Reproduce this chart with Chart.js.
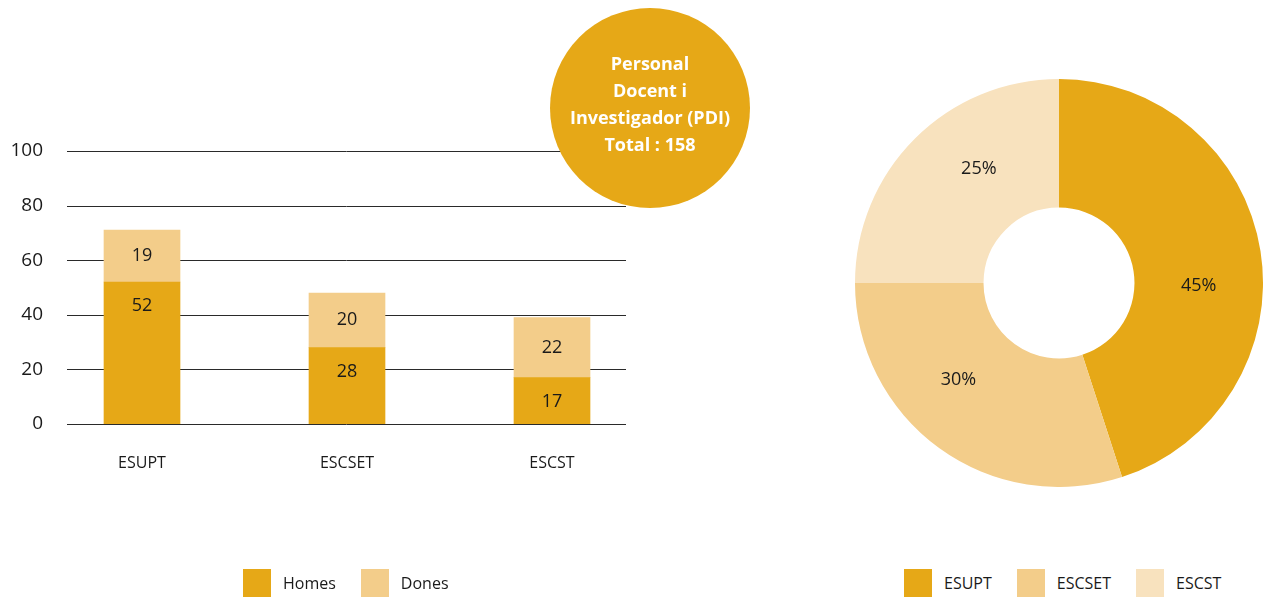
<!DOCTYPE html>
<html lang="ca">
<head>
<meta charset="UTF-8">
<title>Personal Docent i Investigador (PDI)</title>
<script src="https://cdn.jsdelivr.net/npm/chart.js"></script>
<style>
  body { margin: 0; width: 1269px; height: 598px; position: relative; background: #fff; overflow: hidden;
         font-family: "Open Sans", sans-serif; color: #1a1a1a; }
  #barChart { position: absolute; left: 0; top: 0; }
  #pieChart { position: absolute; left: 855px; top: 79px; }
  .bulle { position: absolute; left: 550px; top: 8px; width: 200px; height: 200px; border-radius: 50%;
           background: #E6A817; color: #fff; font-family: "Open Sans", sans-serif; font-weight: 700; font-size: 18px;
           line-height: 27px; text-align: center; display: flex; align-items: center; justify-content: center;
           box-sizing: border-box; padding-bottom: 8px; }
  .legende { position: absolute; top: 569px; display: flex; font-size: 16px; }
  .item { display: flex; align-items: center; margin-right: 25px; }
  .item .carre { width: 28px; height: 28px; margin-right: 12px; }
</style>
</head>
<body>
<canvas id="barChart" width="700" height="598"></canvas>
<div class="bulle">Personal<br>Docent i<br>Investigador (PDI)<br>Total : 158</div>
<canvas id="pieChart" width="408" height="408"></canvas>
<div class="legende" id="legendeBarres" style="left:243px"></div>
<div class="legende" id="legendeAnneau" style="left:904px"></div>

<script>
// Données
const ecoles = ['ESUPT', 'ESCSET', 'ESCST'];
const homes = [52, 28, 17];
const dones = [19, 20, 22];
const pourcentages = [45, 30, 25];
const series = ['Homes', 'Dones'];
const ticksY = [0, 20, 40, 60, 80, 100];

const couleurs = ['#E6A817', '#F3CD8A', '#F8E2BE'];
const texte = '#1a1a1a';
const policeY = '19px "Open Sans"';

// largeur du libellé le plus long de l'axe Y (pour aligner à droite)
const mesure = document.createElement('canvas').getContext('2d');
mesure.font = policeY;
const largeurY = Math.max(...ticksY.map(t => mesure.measureText(String(t)).width));

// Lignes horizontales (plus courtes que la zone des barres)
const grilleY = {
    id: 'grilleY',
    beforeDatasetsDraw(chart) {
        const { ctx, chartArea, scales } = chart;
        ctx.save();
        ctx.strokeStyle = '#2a2a2a';
        ctx.lineWidth = 1;
        ticksY.forEach(v => {
            const y = Math.round(scales.y.getPixelForValue(v)) + 0.5;
            ctx.beginPath();
            ctx.moveTo(chartArea.left + 27.5, y);
            ctx.lineTo(chartArea.right - 28.5, y);
            ctx.stroke();
        });
        ctx.restore();
    }
};

// Valeurs écrites dans les barres
const etiquettesBarres = {
    id: 'etiquettesBarres',
    afterDatasetsDraw(chart) {
        const { ctx } = chart;
        ctx.save();
        ctx.font = '18px "Open Sans"';
        ctx.fillStyle = texte;
        ctx.textAlign = 'center';
        ctx.textBaseline = 'middle';
        chart.data.datasets.forEach((ds, i) => {
            chart.getDatasetMeta(i).data.forEach((bar, j) => {
                const y = i === 0 ? bar.y + 24 : (bar.y + bar.base) / 2;
                ctx.fillText(ds.data[j], bar.x, y);
            });
        });
        ctx.restore();
    }
};

new Chart(document.getElementById('barChart'), {
    type: 'bar',
    data: {
        labels: ecoles,
        datasets: [
            { label: series[0], data: homes, backgroundColor: couleurs[0] },
            { label: series[1], data: dones, backgroundColor: couleurs[1] }
        ]
    },
    options: {
        responsive: false,
        animation: false,
        layout: { padding: { top: 151, left: 0, right: 45.5, bottom: 124 } },
        barThickness: 76,
        plugins: { legend: { display: false }, tooltip: { enabled: false } },
        scales: {
            x: {
                stacked: true,
                grid: { display: false, drawTicks: false },
                border: { display: false },
                ticks: { padding: 30, color: texte, font: { family: 'Open Sans', size: 16 } },
                afterFit(scale) { scale.height = 50; }
            },
            y: {
                stacked: true,
                min: 0,
                max: 100,
                grid: { display: false, drawTicks: false },
                border: { display: false },
                ticks: {
                    stepSize: 20, mirror: true, crossAlign: 'far', padding: 3.5 - largeurY,
                    color: texte, font: { family: 'Open Sans', size: 19 }
                },
                afterFit(scale) { scale.width = 39.5; }
            }
        }
    },
    plugins: [grilleY, etiquettesBarres]
});

// Pourcentages dans l'anneau
const etiquettesAnneau = {
    id: 'etiquettesAnneau',
    afterDatasetsDraw(chart) {
        const { ctx } = chart;
        ctx.save();
        ctx.font = '18px "Open Sans"';
        ctx.fillStyle = texte;
        ctx.textAlign = 'center';
        ctx.textBaseline = 'middle';
        chart.getDatasetMeta(0).data.forEach((arc, j) => {
            const p = arc.getProps(['x', 'y', 'startAngle', 'endAngle', 'innerRadius', 'outerRadius']);
            const a = (p.startAngle + p.endAngle) / 2 + Math.PI / 18; // un peu décalé comme dans l'original
            const r = (p.innerRadius + p.outerRadius) / 2;
            ctx.fillText(pourcentages[j] + '%', p.x + Math.cos(a) * r, p.y + Math.sin(a) * r);
        });
        ctx.restore();
    }
};

new Chart(document.getElementById('pieChart'), {
    type: 'doughnut',
    data: {
        labels: ecoles,
        datasets: [{ data: pourcentages, backgroundColor: couleurs, borderWidth: 0 }]
    },
    options: {
        responsive: false,
        animation: false,
        cutout: '37%',
        plugins: { legend: { display: false }, tooltip: { enabled: false } }
    },
    plugins: [etiquettesAnneau]
});

// Légendes
function legende(id, noms, cols) {
    const el = document.getElementById(id);
    noms.forEach((nom, i) => {
        const item = document.createElement('div');
        item.className = 'item';
        item.innerHTML = '<span class="carre" style="background:' + cols[i] + '"></span>' + nom;
        el.appendChild(item);
    });
}
legende('legendeBarres', series, couleurs);
legende('legendeAnneau', ecoles, couleurs);
</script>
</body>
</html>
